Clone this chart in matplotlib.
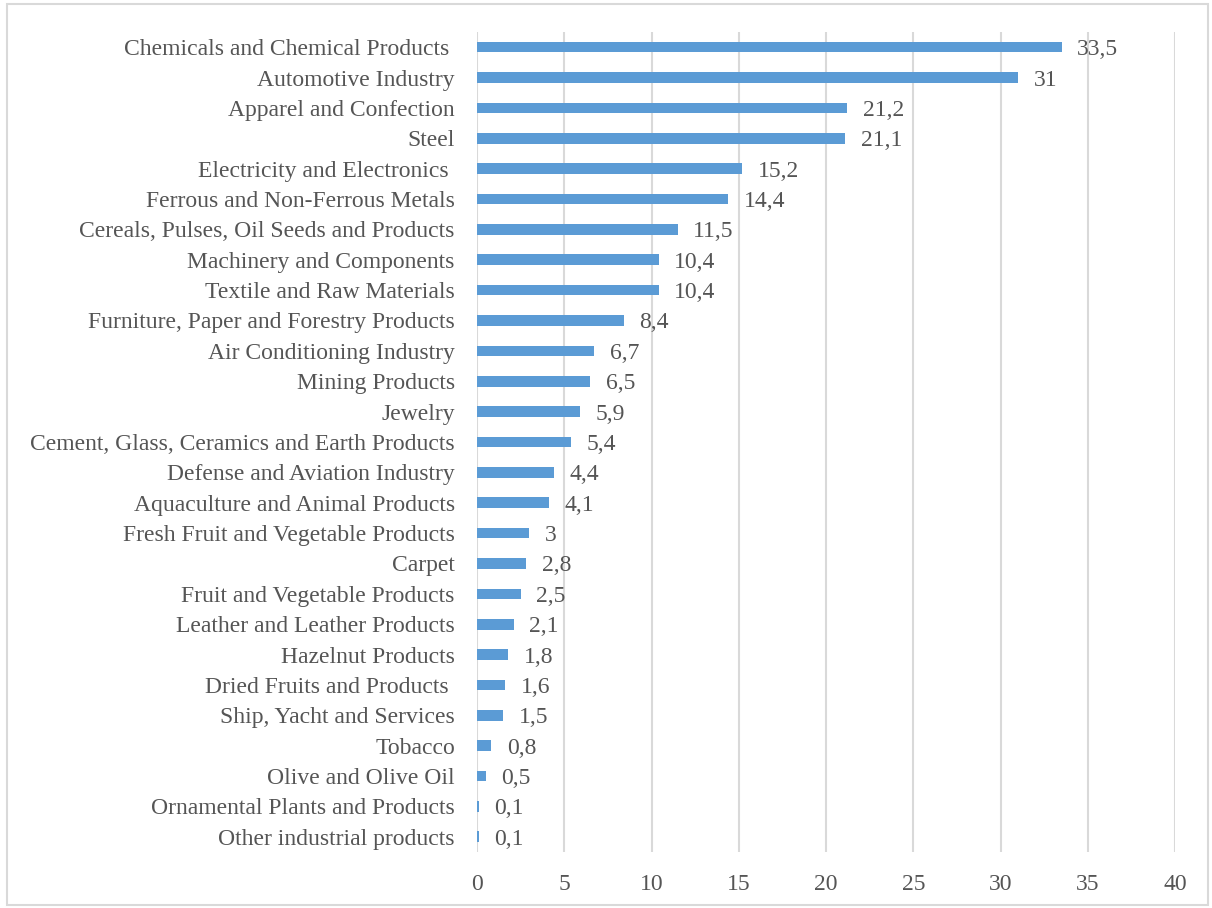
import matplotlib.pyplot as plt
from matplotlib.patches import Rectangle

plt.rcParams["font.family"] = ["Liberation Serif", "DejaVu Serif"]

sectors = [
    "Chemicals and Chemical Products ", "Automotive Industry", "Apparel and Confection",
    "Steel", "Electricity and Electronics ", "Ferrous and Non-Ferrous Metals",
    "Cereals, Pulses, Oil Seeds and Products", "Machinery and Components",
    "Textile and Raw Materials", "Furniture, Paper and Forestry Products",
    "Air Conditioning Industry", "Mining Products", "Jewelry",
    "Cement, Glass, Ceramics and Earth Products", "Defense and Aviation Industry",
    "Aquaculture and Animal Products", "Fresh Fruit and Vegetable Products", "Carpet",
    "Fruit and Vegetable Products", "Leather and Leather Products", "Hazelnut Products",
    "Dried Fruits and Products ", "Ship, Yacht and Services", "Tobacco",
    "Olive and Olive Oil", "Ornamental Plants and Products", "Other industrial products",
]
shares = [33.5, 31, 21.2, 21.1, 15.2, 14.4, 11.5, 10.4, 10.4, 8.4, 6.7, 6.5, 5.9, 5.4,
          4.4, 4.1, 3, 2.8, 2.5, 2.1, 1.8, 1.6, 1.5, 0.8, 0.5, 0.1, 0.1]
xticks = [0, 5, 10, 15, 20, 25, 30, 35, 40]

BAR = "#5B9BD5"
TXT = "#555555"
GRID = "#D9D9D9"
FS = 17

fig = plt.figure(figsize=(12.12, 9.08), dpi=100)
ax = fig.add_axes([0.3936, 0.0617, 0.5759, 0.9031])
fig.patches.append(Rectangle((0.006, 0.003), 0.991, 0.993, transform=fig.transFigure,
                             fill=False, ec="#D9D9D9", lw=1.5))

y = range(len(sectors))
ax.barh(y, shares, height=0.35, color=BAR, zorder=3)
for yi, v in zip(y, shares):
    ax.text(v + 0.9, yi, f"{v:g}".replace(".", ","), va="center_baseline", ha="left",
            fontsize=FS, color=TXT, zorder=4)

ax.set_ylim(len(sectors) - 0.5, -0.5)
ax.set_xlim(0, 40)
ax.set_yticks(list(y))
ax.set_yticklabels(sectors, va="center_baseline")
ax.set_xticks(xticks)
ax.tick_params(axis="y", length=0, pad=16, labelsize=FS, labelcolor=TXT)
ax.tick_params(axis="x", length=0, pad=16, labelsize=FS, labelcolor=TXT)
ax.grid(axis="x", color=GRID, lw=1.5, zorder=0)
for s in ax.spines.values():
    s.set_visible(False)

fig.savefig("out.png", dpi=100)
